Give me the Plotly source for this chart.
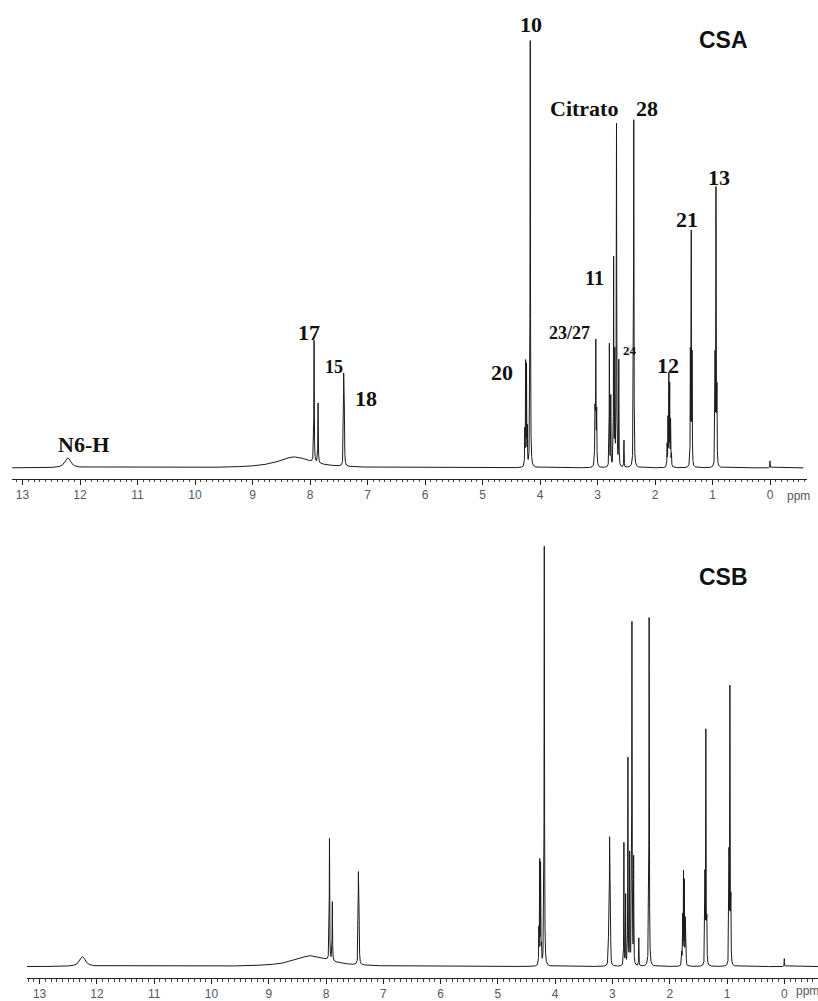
import numpy as np
import plotly.graph_objects as go

# ---------------- data ----------------
# CSA spectrum: line positions (ppm), apparent heights, half-widths (ppm)
csa_shift = [0.00, 0.955, 0.940, 0.925, 1.385, 1.370, 1.355,
             1.790, 1.775, 1.760, 1.745, 1.730, 1.715,
             2.370, 2.540, 2.630, 2.670, 2.700, 2.720, 2.770, 2.794,
             3.045, 3.030, 3.015, 4.170,
             4.265, 4.250, 4.235, 4.220,
             7.415, 7.405, 7.860, 7.930, 8.270, 12.210]
csa_height = [7, 135, 272, 130, 111, 230, 108,
              22, 47, 90, 80, 45, 18,
              349, 27, 105, 343, 110, 207, 70, 123,
              55, 122, 52, 428,
              35, 102, 98, 36,
              83, 77, 60, 122, 11, 10]
csa_width = [0.003, 0.003, 0.003, 0.003, 0.003, 0.003, 0.003,
             0.003, 0.003, 0.003, 0.003, 0.003, 0.003,
             0.004, 0.003, 0.003, 0.004, 0.003, 0.003, 0.003, 0.003,
             0.004, 0.004, 0.004, 0.004,
             0.003, 0.003, 0.003, 0.003,
             0.004, 0.004, 0.004, 0.004, 0.35, 0.06]

# CSB spectrum
csb_shift = [0.00, 0.965, 0.950, 0.935, 1.385, 1.370, 1.355,
             1.790, 1.775, 1.760, 1.745, 1.730, 1.715,
             2.360, 2.540, 2.630, 2.660, 2.700, 2.730, 2.770, 2.800,
             3.065, 3.050, 3.035, 4.190,
             4.285, 4.270, 4.255, 4.240,
             7.435, 7.425, 7.890, 7.940, 8.250, 12.250]
csb_height = [8, 137, 272, 132, 111, 230, 108,
              22, 48, 91, 82, 45, 18,
              350, 28, 105, 344, 110, 207, 70, 123,
              55, 123, 52, 421,
              35, 102, 98, 36,
              83, 77, 59, 122, 11, 10]
csb_width = csa_width

# axis ticks / labels
tick_values = list(range(0, 14))
tick_labels = [str(v) for v in tick_values]

# annotations: (text, x_px, y_px, size)
top_labels = [
    ("10", 531, 25, 22), ("Citrato", 584, 109, 22), ("28", 647, 109, 22),
    ("13", 719, 178, 22), ("21", 687, 220, 22), ("11", 594, 279, 20),
    ("23/27", 569, 334, 18), ("24", 630, 352, 13), ("12", 668, 367, 22),
    ("20", 502, 374, 22), ("N6-H", 83, 446, 22), ("17", 309, 334, 22),
    ("15", 334, 368, 18), ("18", 366, 400, 22),
]
panel_titles = [("CSA", 723, 40), ("CSB", 723, 579)]

W, H = 818, 1001


def spectrum(shifts, heights, widths, lo, hi, step=0.0005):
    x = np.arange(lo, hi, step)
    y = np.zeros_like(x)
    for s, h, w in zip(shifts, heights, widths):
        y += h * w * w / ((x - s) ** 2 + w * w)
    return np.round(x, 4), np.round(y, 2)


xa, ya = spectrum(csa_shift, csa_height, csa_width, -0.58, 13.18)
xb, yb = spectrum(csb_shift, csb_height, csb_width, -0.60, 13.22)

fig = go.Figure()
fig.add_trace(go.Scatter(x=xa, y=ya, mode="lines", line=dict(color="#1a1a1a", width=1),
                         xaxis="x", yaxis="y", showlegend=False, hoverinfo="skip"))
fig.add_trace(go.Scatter(x=xb, y=yb, mode="lines", line=dict(color="#1a1a1a", width=1),
                         xaxis="x2", yaxis="y2", showlegend=False, hoverinfo="skip"))

tickfont = dict(family="Liberation Sans", size=12, color="#505a66")


def xaxis_cfg(domain_px, rng, anchor):
    return dict(domain=[domain_px[0] / W, domain_px[1] / W], range=rng, anchor=anchor,
                tickmode="array", tickvals=tick_values, ticktext=tick_labels,
                ticks="outside", ticklen=5, tickcolor="#222", tickwidth=1,
                minor=dict(dtick=0.1, tick0=0, ticks="outside", ticklen=2.5,
                           tickcolor="#444", tickwidth=1),
                showline=True, linecolor="#222", linewidth=1,
                showgrid=False, zeroline=False, tickfont=tickfont, fixedrange=True)


def yaxis_cfg(top_px, bottom_px, base_px, anchor):
    lo = -(bottom_px - base_px)
    hi = base_px - top_px
    return dict(domain=[1 - bottom_px / H, 1 - top_px / H], range=[lo, hi],
                anchor=anchor, visible=False, fixedrange=True)


fig.update_layout(
    width=W, height=H, autosize=False,
    margin=dict(l=0, r=0, t=0, b=0),
    paper_bgcolor="white", plot_bgcolor="white",
    xaxis=xaxis_cfg((12, 807), [13.183, -0.643], "y"),
    yaxis=yaxis_cfg(30, 480, 469.3, "x"),
    xaxis2=xaxis_cfg((27, 818), [13.22, -0.588], "y2"),
    yaxis2=yaxis_cfg(530, 981, 969.5, "x2"),
)

annotations = []
for text, xp, yp, size in top_labels:
    annotations.append(dict(text="<b>%s</b>" % text, x=xp / W, y=1 - yp / H,
                            xref="paper", yref="paper", xanchor="center", yanchor="middle",
                            showarrow=False,
                            font=dict(family="Liberation Serif", size=size, color="#111")))
for text, xp, yp in panel_titles:
    annotations.append(dict(text="<b>%s</b>" % text, x=xp / W, y=1 - yp / H,
                            xref="paper", yref="paper", xanchor="center", yanchor="middle",
                            showarrow=False,
                            font=dict(family="Liberation Sans", size=23, color="#111")))
annotations.append(dict(text="ppm", x=785 / W, y=1 - 497 / H, xref="paper", yref="paper",
                        xanchor="left", yanchor="middle", showarrow=False, font=tickfont))
annotations.append(dict(text="ppm", x=794 / W, y=1 - 994 / H, xref="paper", yref="paper",
                        xanchor="left", yanchor="middle", showarrow=False, font=tickfont))
fig.update_layout(annotations=annotations)

fig.write_html("out.html",
               config={"displayModeBar": False, "staticPlot": True},
               post_script="document.body.style.margin='0';"
                           "document.body.style.overflow='hidden';")
